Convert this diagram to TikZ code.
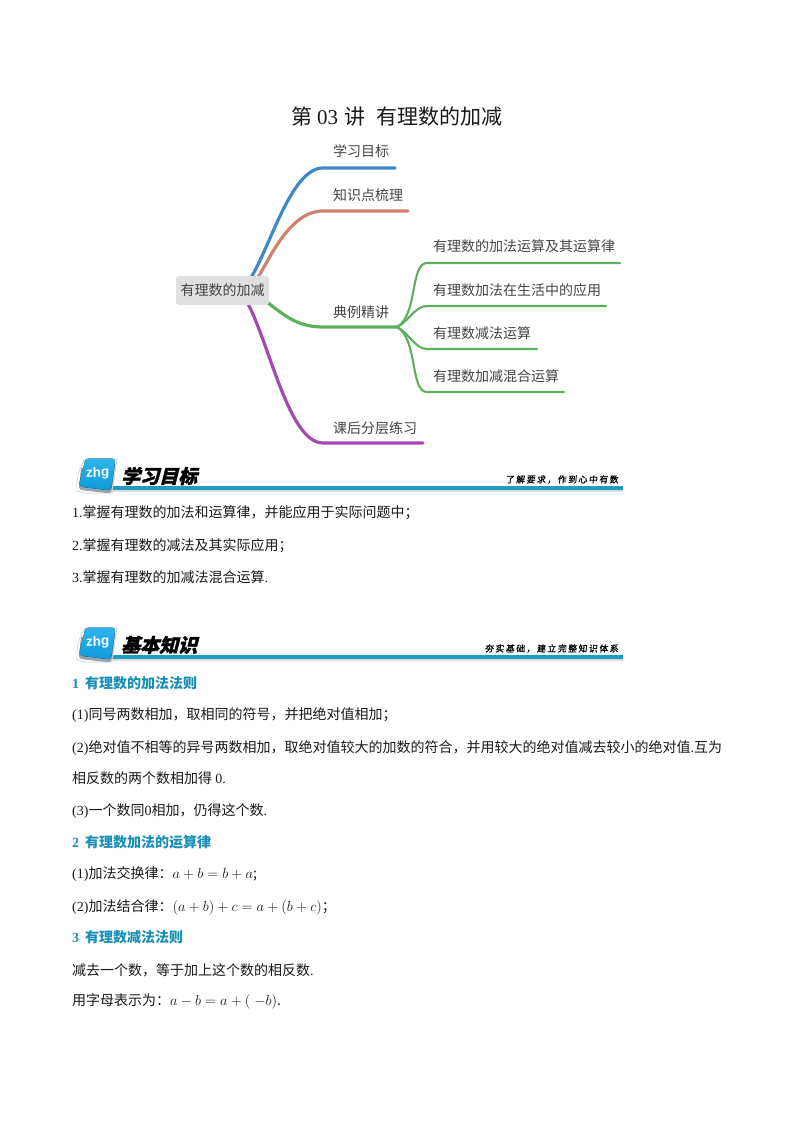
\documentclass[tikz,border=0pt]{standalone}
\usepackage{fontspec}
\setmainfont{Noto Sans CJK SC}
\newfontfamily\lat{Liberation Serif}
\newfontfamily\headfont[FakeSlant=0.25,FakeBold=1.5]{Noto Sans CJK SC}
\newfontfamily\tagfont[FakeSlant=0.1,LetterSpace=18,FakeBold=1]{Noto Sans CJK SC}
\newfontfamily\logofont[FakeSlant=0.05]{Liberation Sans}
\usetikzlibrary{calc,backgrounds}
\definecolor{teal1}{HTML}{1F9CC4}
\definecolor{headc}{HTML}{1A8FB5}
\definecolor{blueb}{HTML}{3F87C8}
\definecolor{salb}{HTML}{D0816F}
\definecolor{greenb}{HTML}{5CB05C}
\definecolor{purpb}{HTML}{A349B0}
\definecolor{mapt}{HTML}{444444}
\definecolor{rootf}{HTML}{E0E0E0}
\definecolor{badgea}{HTML}{2FB4EC}
\definecolor{badgeb}{HTML}{0F9ADB}
\definecolor{badges}{HTML}{8FA6B2}
\tikzset{
 x=1pt,y=-1pt,
 body/.style={anchor=west,inner sep=0pt,font=\fontsize{14}{14}\selectfont,text=black!90},
 heading/.style={anchor=west,inner sep=0pt,font=\fontsize{14}{14}\selectfont\bfseries,text=headc},
 maplabel/.style={anchor=west,inner sep=0pt,font=\fontsize{14}{14}\selectfont,text=mapt},
 rootbox/.style={fill=rootf,rounded corners=3pt,minimum width=93pt,minimum height=29pt,inner sep=0pt,font=\fontsize{14}{14}\selectfont,text=mapt},
 mainb/.style={line width=3.2pt,line cap=round},
 subb/.style={line width=2.1pt,line cap=round,draw=greenb},
 sechead/.style={anchor=west,inner sep=0pt,font=\fontsize{19}{19}\headfont\bfseries,text=black},
 tagline/.style={anchor=east,inner sep=0pt,font=\fontsize{8.8}{9}\tagfont,text=black},
 logotext/.style={inner sep=0pt,rotate=4,font=\fontsize{13.5}{13.5}\logofont\bfseries,text=white},
}
\newcommand{\sectbar}[4]{%
  % #1 name, #2 y of rule, #3 title, #4 tagline
  \fill[black!14] (108,#2+2) rectangle (623,#2+3.6);
  \fill[teal1] (108,#2-2) rectangle (623,#2+2);
  \draw[black!20,line width=.6pt,fill=white] (85,#2-29) .. controls (79,#2-20) and (76,#2-8) .. (77,#2+3) -- (86,#2+5) -- (112,#2+5) -- (117,#2-29) -- cycle;
  \fill[badges] (81,#2-20) -- (115.5,#2-24) -- (112,#2+2) .. controls (111.5,#2+5) and (110,#2+5.5) .. (107,#2+5) -- (84,#2+2.5) .. controls (80,#2+2) and (79,#2+1) .. (79,#2-1) -- cycle;
  \fill[top color=badgea,bottom color=badgeb] (85,#2-27) .. controls (85.5,#2-28.5) and (87,#2-29.5) .. (89,#2-29.5) -- (112,#2-29.5) .. controls (114,#2-29.5) and (115,#2-28) .. (115,#2-26) -- (111.5,#2-1) .. controls (111,#2+1) and (109,#2+2) .. (107,#2+2) -- (83,#2-1) .. controls (80,#2-1.5) and (79,#2-3) .. (79.5,#2-5.5) -- cycle;
  \node[logotext] (#1logo) at (97.5,#2-14.5) {zhg};
  \node[sechead] (#1title) at (121,#2-12) {#3};
  \node[tagline] (#1tag) at (618.5,#2-8.5) {#4};
}
\begin{document}
\begin{tikzpicture}
\useasboundingbox (0,0) rectangle (794,1123);
% title
\node[inner sep=0pt,anchor=west,font=\fontsize{21}{21}\selectfont,text=black!90] (title) at (291,117) {第\hspace{5pt}{\lat 03}\hspace{6.5pt}讲\hspace{11pt}有理数的加减};
% map
\node[rootbox] (root) at (222.5,290.5) {有理数的加减};
\node[maplabel] (l1) at (333,151.5) {学习目标};
\node[maplabel] (l2) at (333,195) {知识点梳理};
\node[maplabel] (l3) at (333,312) {典例精讲};
\node[maplabel] (l4) at (333,428) {课后分层练习};
\node[maplabel] (s1) at (433,246) {有理数的加法运算及其运算律};
\node[maplabel] (s2) at (433,290) {有理数加法在生活中的应用};
\node[maplabel] (s3) at (433,333) {有理数减法运算};
\node[maplabel] (s4) at (433,376) {有理数加减混合运算};
\coordinate (e1) at (395,168);
\coordinate (e2) at (408,211);
\coordinate (e3) at (397,327);
\coordinate (e4) at (423,443);
\coordinate (k1) at (323,168);
\coordinate (k2) at (323,211);
\coordinate (k3) at (323,327);
\coordinate (k4) at (323,443);
\coordinate (f1) at (620,263);
\coordinate (f2) at (606,306);
\coordinate (f3) at (537,349);
\coordinate (f4) at (564,392);
\coordinate (g1) at (427,263);
\coordinate (g2) at (427,306);
\coordinate (g3) at (427,349);
\coordinate (g4) at (427,392);
\begin{scope}[on background layer]
\draw[mainb,draw=blueb] ($(root.north east)+(-19,3)$) .. controls (270,248) and (291,168) .. (k1) -- (e1);
\draw[mainb,draw=salb] ($(root.north east)+(-12,3)$) .. controls (270,258) and (290,211) .. (k2) -- (e2);
\draw[mainb,draw=greenb] ($(root.south east)+(-2,-3)$) .. controls (285,316) and (298,327) .. (k3) -- (e3);
\draw[mainb,draw=purpb] ($(root.south east)+(-22,-3)$) .. controls (270,345) and (289,443) .. (k4) -- (e4);
\draw[subb] (e3) .. controls (418,315) and (410,263) .. (g1) -- (f1);
\draw[subb] (e3) .. controls (408,322) and (415,306) .. (g2) -- (f2);
\draw[subb] (e3) .. controls (408,332) and (415,349) .. (g3) -- (f3);
\draw[subb] (e3) .. controls (418,339) and (410,392) .. (g4) -- (f4);
\end{scope}
% sections
\sectbar{secA}{488}{学习目标}{了解要求，作到心中有数}
\sectbar{secB}{657}{基本知识}{夯实基础，建立完整知识体系}
\node[body] (a1) at (72,513) {{\lat 1.}掌握有理数的加法和运算律，并能应用于实际问题中；};
\node[body] (a2) at (72,546) {{\lat 2.}掌握有理数的减法及其实际应用；};
\node[body] (a3) at (72,577) {{\lat 3.}掌握有理数的加减法混合运算{\lat .}};
\node[heading] (h1) at (72,683) {{\lat\bfseries 1}\hspace{6pt}有理数的加法法则};
\node[body] (b1) at (72,715) {{\lat (1)}同号两数相加，取相同的符号，并把绝对值相加；};
\node[body] (b2) at (72,748) {{\lat (2)}绝对值不相等的异号两数相加，取绝对值较大的加数的符合，并用较大的绝对值减去较小的绝对值{\lat .}互为};
\node[body] (b3) at (72,778) {相反数的两个数相加得 {\lat 0.}};
\node[body] (b4) at (72,811) {{\lat (3)}一个数同{\lat 0}相加，仍得这个数{\lat .}};
\node[heading] (h2) at (72,842) {{\lat\bfseries 2}\hspace{6pt}有理数加法的运算律};
\node[body] (c1) at (72,874) {{\lat (1)}加法交换律：$a+b=b+a$;};
\node[body] (c2) at (72,907) {{\lat (2)}加法结合律：$(a+b)+c=a+(b+c)$；};
\node[heading] (h3) at (72,937) {{\lat\bfseries 3}\hspace{6pt}有理数减法法则};
\node[body] (d1) at (72,970) {减去一个数，等于加上这个数的相反数{\lat .}};
\node[body] (d2) at (72,1001) {用字母表示为：$a-b=a+(\hspace{4pt}-b)$.};
\end{tikzpicture}
\end{document}
